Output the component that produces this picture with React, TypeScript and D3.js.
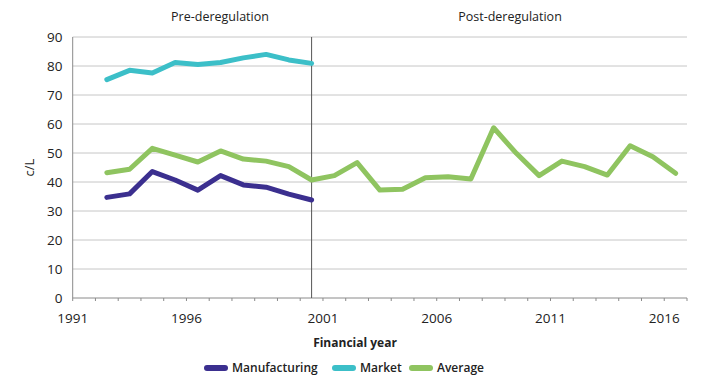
import React, { useEffect, useRef } from "react";
import * as d3 from "d3";

// financial years on the category axis
const years = d3.range(1991, 2018);
const preYears = d3.range(1992, 2002);
const allYears = d3.range(1992, 2018);

const manufacturing = [34.7, 35.9, 43.6, 40.7, 37.2, 42.2, 39.0, 38.2, 35.8, 33.8];
const market = [75.3, 78.5, 77.6, 81.2, 80.5, 81.2, 82.8, 84.0, 82.1, 80.9];
const average = [
  43.2, 44.4, 51.6, 49.3, 46.9, 50.7, 47.9, 47.2, 45.3, 40.7,
  42.2, 46.7, 37.2, 37.5, 41.5, 41.8, 41.0, 58.7, 49.9, 42.2,
  47.2, 45.3, 42.4, 52.5, 48.7, 43.0,
];

const yTicks = [0, 10, 20, 30, 40, 50, 60, 70, 80, 90];
const xTickLabels = ["1991", "1996", "2001", "2006", "2011", "2016"];
const xTickAt = [1991, 1996, 2002, 2007, 2012, 2017];

const series = [
  { name: "Manufacturing", color: "#3b2f8f", years: preYears, values: manufacturing },
  { name: "Market", color: "#3cbfc8", years: preYears, values: market },
  { name: "Average", color: "#8fc460", years: allYears, values: average },
];

const FONT = "'Open Sans', sans-serif";

const App = () => {
  const ref = useRef<SVGSVGElement>(null);

  useEffect(() => {
    const svg = d3.select(ref.current);
    svg.selectAll("*").remove();

    const margin = { top: 37, right: 24, bottom: 88, left: 72.7 };
    const W = 711, H = 386;

    const x = d3
      .scaleBand<number>()
      .domain(years)
      .range([margin.left, W - margin.right])
      .padding(0);
    const y = d3.scaleLinear().domain([0, 90]).range([H - margin.bottom + 0, margin.top]);
    const cx = (yr: number) => (x(yr) as number) + x.bandwidth() / 2;

    // gridlines
    svg
      .append("g")
      .selectAll("line")
      .data(yTicks.filter((d) => d > 0))
      .enter()
      .append("line")
      .attr("x1", margin.left)
      .attr("x2", W - margin.right)
      .attr("y1", (d) => y(d))
      .attr("y2", (d) => y(d))
      .attr("stroke", "#c6c6c6")
      .attr("stroke-width", 1);

    // y axis
    svg
      .append("line")
      .attr("x1", margin.left)
      .attr("x2", margin.left)
      .attr("y1", y(90))
      .attr("y2", y(0))
      .attr("stroke", "#8a8a8a");
    svg
      .append("g")
      .selectAll("text")
      .data(yTicks)
      .enter()
      .append("text")
      .attr("x", 62.5)
      .attr("y", (d) => y(d))
      .attr("dy", "0.35em")
      .attr("text-anchor", "end")
      .attr("font-family", FONT)
      .attr("font-size", 13.5)
      .attr("font-weight", 500)
      .attr("fill", "#222")
      .text((d) => d);

    svg
      .append("text")
      .attr("transform", `translate(34, ${(y(0) + y(90)) / 2}) rotate(-90)`)
      .attr("text-anchor", "middle")
      .attr("font-family", FONT)
      .attr("font-size", 13)
      .attr("font-weight", 500)
      .attr("fill", "#222")
      .text("c/L");

    // x axis
    svg
      .append("line")
      .attr("x1", margin.left)
      .attr("x2", W - margin.right)
      .attr("y1", y(0))
      .attr("y2", y(0))
      .attr("stroke", "#8a8a8a");
    svg
      .append("g")
      .selectAll("line")
      .data(years.concat([2018]))
      .enter()
      .append("line")
      .attr("x1", (d) => (d === 2018 ? W - margin.right : (x(d) as number)))
      .attr("x2", (d) => (d === 2018 ? W - margin.right : (x(d) as number)))
      .attr("y1", y(0))
      .attr("y2", y(0) + 3)
      .attr("stroke", "#8a8a8a");
    svg
      .append("g")
      .selectAll("text")
      .data(xTickLabels)
      .enter()
      .append("text")
      .attr("x", (d, i) => x(xTickAt[i]) as number)
      .attr("y", 323)
      .attr("text-anchor", "middle")
      .attr("font-family", FONT)
      .attr("font-size", 13.5)
      .attr("font-weight", 500)
      .attr("fill", "#222")
      .text((d) => d);

    svg
      .append("text")
      .attr("x", 355)
      .attr("y", 347)
      .attr("text-anchor", "middle")
      .attr("font-family", FONT)
      .attr("font-size", 12)
      .attr("font-weight", 700)
      .attr("fill", "#222")
      .text("Financial year");

    // deregulation divider
    svg
      .append("line")
      .attr("x1", cx(2001))
      .attr("x2", cx(2001))
      .attr("y1", y(90))
      .attr("y2", y(0))
      .attr("stroke", "#555")
      .attr("stroke-width", 1);

    svg
      .append("text")
      .attr("x", 220)
      .attr("y", 21)
      .attr("text-anchor", "middle")
      .attr("font-family", FONT)
      .attr("font-size", 12.5)
      .attr("font-weight", 500)
      .attr("fill", "#222")
      .text("Pre-deregulation");
    svg
      .append("text")
      .attr("x", 510)
      .attr("y", 21)
      .attr("text-anchor", "middle")
      .attr("font-family", FONT)
      .attr("font-size", 12.5)
      .attr("font-weight", 500)
      .attr("fill", "#222")
      .text("Post-deregulation");

    // lines
    const line = d3
      .line<number>()
      .x((d, i) => cx(0) || 0)
      .y((d) => y(d));

    series.forEach((s) => {
      const gen = d3
        .line<number>()
        .x((d, i) => cx(s.years[i]))
        .y((d) => y(d));
      svg
        .append("path")
        .datum(s.values)
        .attr("fill", "none")
        .attr("stroke", s.color)
        .attr("stroke-width", 5)
        .attr("stroke-linejoin", "round")
        .attr("stroke-linecap", "round")
        .attr("d", gen);
    });

    // legend
    const legendX = [205, 333, 410];
    const legend = svg
      .append("g")
      .selectAll("g")
      .data(series)
      .enter()
      .append("g")
      .attr("transform", (d, i) => `translate(${legendX[i]}, 368)`);
    legend
      .append("line")
      .attr("x1", 2)
      .attr("x2", 20)
      .attr("stroke", (d) => d.color)
      .attr("stroke-width", 6)
      .attr("stroke-linecap", "round");
    legend
      .append("text")
      .attr("x", 27)
      .attr("dy", "0.35em")
      .attr("font-family", FONT)
      .attr("font-size", 12)
      .attr("font-weight", 600)
      .attr("fill", "#222")
      .text((d) => d.name);
  }, []);

  return (
    <svg
      ref={ref}
      width={711}
      height={386}
      style={{ position: "absolute", left: 0, top: 0, background: "#fff" }}
    />
  );
};

export default App;
